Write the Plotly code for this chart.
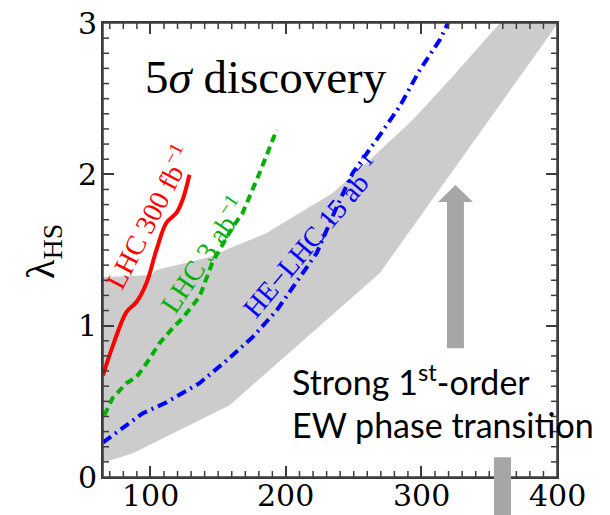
import plotly.graph_objects as go

# ---- data ----
band_upper_x = [65, 100, 104.4, 126.6, 143.6, 160.6, 185.7, 210, 234.5, 259.6, 293.6, 321, 358, 400]
band_upper_y = [1.32, 1.334, 1.368, 1.414, 1.454, 1.52, 1.612, 1.745, 1.877, 2.076, 2.36, 2.626, 3.0, 3.0]
band_lower_x = [65, 86.7, 158.4, 210, 269.3, 400]
band_lower_y = [0.096, 0.156, 0.474, 0.884, 1.348, 2.99]

lhc300_x = [65, 71.9, 82.3, 89.7, 97.0, 104.4, 111.8, 119.2, 123.7, 128.8]
lhc300_y = [0.672, 0.858, 1.09, 1.156, 1.28, 1.50, 1.68, 1.745, 1.83, 1.997]

lhc3_x = [66.0, 71.9, 82.3, 89.7, 97.0, 106.7, 116.3, 123.7, 136.2, 145.8, 160.6, 168, 180.6, 193.2]
lhc3_y = [0.407, 0.52, 0.62, 0.66, 0.75, 0.884, 0.983, 1.05, 1.19, 1.42, 1.65, 1.745, 2.01, 2.295]

helhc_x = [65, 74.9, 94.1, 111.8, 136.2, 156.2, 175.4, 193.1, 205, 222.7, 237.5, 249.3, 267, 284, 298.8, 313.6, 319.5]
helhc_y = [0.228, 0.295, 0.42, 0.493, 0.62, 0.77, 0.924, 1.10, 1.255, 1.48, 1.785, 2.01, 2.23, 2.45, 2.69, 2.89, 3.0]

x_range = [65, 400]
y_range = [0, 3]
x_major = [100, 200, 300, 400]
y_major = [0, 1, 2, 3]
x_minor_step = 10
y_minor_step = 0.1

SERIF = "Liberation Serif"
TICKSERIF = "DejaVu Serif"
SANS = "Lato"
AXC = "rgb(60,60,60)"

W, H = 610, 515
ML, MR, MT, MB = 103, 53, 23, 38
PW, PH = W - ML - MR, H - MT - MB
px_x = (x_range[1] - x_range[0]) / PW   # data units per pixel
px_y = (y_range[1] - y_range[0]) / PH

fig = go.Figure()

fig.add_trace(go.Scatter(
    x=band_upper_x + band_lower_x[::-1],
    y=band_upper_y + band_lower_y[::-1],
    fill="toself", fillcolor="#cccccc", line=dict(width=0),
    mode="lines", hoverinfo="skip", showlegend=False))

fig.add_trace(go.Scatter(x=lhc300_x, y=lhc300_y, mode="lines",
                         line=dict(color="#ff0000", width=4, shape="spline"), showlegend=False))
fig.add_trace(go.Scatter(x=lhc3_x, y=lhc3_y, mode="lines",
                         line=dict(color="#00b000", width=4, dash="8px,5px"), showlegend=False))
fig.add_trace(go.Scatter(x=helhc_x, y=helhc_y, mode="lines",
                         line=dict(color="#0000ff", width=4, dash="10px,5px,2px,5px"), showlegend=False))

# ---- minor inside ticks on all four sides, as one line trace ----
tx, ty = [], []
x0, x1 = x_range
y0, y1 = y_range
for k in range(0, int(round(x1 / x_minor_step)) + 1):
    xv = k * x_minor_step
    if xv <= x0 or xv >= x1 or xv % 100 == 0:
        continue
    tx += [xv, xv, None, xv, xv, None]
    ty += [y0, y0 + 6 * px_y, None, y1, y1 - 6 * px_y, None]
for k in range(1, int(round((y1 - y0) / y_minor_step))):
    if k % 10 == 0:
        continue
    yv = y0 + k * y_minor_step
    tx += [x0, x0 + 6 * px_x, None, x1, x1 - 6 * px_x, None]
    ty += [yv, yv, None, yv, yv, None]
fig.add_trace(go.Scatter(x=tx, y=ty, mode="lines", line=dict(color=AXC, width=1.5),
                         connectgaps=False, hoverinfo="skip", showlegend=False))

# ---- frame as a closed rectangle ----
fig.add_shape(type="rect", xref="paper", yref="paper", x0=0, x1=1, y0=0, y1=1,
              line=dict(color=AXC, width=1.5), layer="above")

# arrow (gray) and bottom bar
fig.add_shape(type="path",
              path="M 318.8,0.851 L 331.3,0.851 L 331.3,1.818 L 338,1.818 L 325.1,1.93 L 312.2,1.818 L 318.8,1.818 Z",
              xref="x", yref="y", fillcolor="#a6a6a6", line=dict(width=0), layer="above")
fig.add_shape(type="rect", x0=353.5, x1=366.1, y0=-0.1, y1=0.0436,
              xref="x", yref="paper", fillcolor="#a6a6a6", line=dict(width=0), layer="above")

# ---- tick labels and axis title ----
for xv in x_major:
    fig.add_annotation(x=xv, y=0, xref="x", yref="paper", showarrow=False, xanchor="center",
                       yanchor="middle", yshift=-18, text=str(xv),
                       font=dict(family=TICKSERIF, size=30, color="black"))
for yv in y_major:
    fig.add_annotation(x=0, y=yv, xref="paper", yref="y", showarrow=False, xanchor="right",
                       yanchor="middle", xshift=-4, text=str(yv),
                       font=dict(family=TICKSERIF, size=30, color="black"))
fig.add_annotation(x=0, y=0.5, xref="paper", yref="paper", showarrow=False, xanchor="center",
                   yanchor="middle", xshift=-60, yshift=-2, textangle=-90, text="λ<sub>HS</sub>",
                   font=dict(family=SERIF, size=40, color="black"))

annos = [
    dict(x=185.5, y=2.64, text="5<i>σ</i> discovery", font=dict(family=SERIF, size=47, color="black"), textangle=0),
    dict(x=98.5, y=1.72, text="LHC 300 fb<sup>−1</sup>", font=dict(family=SERIF, size=28, color="#ff0000"), textangle=-62.5),
    dict(x=138.5, y=1.47, text="LHC 3 ab<sup>−1</sup>", font=dict(family=SERIF, size=28, color="#00b000"), textangle=-56),
    dict(x=218.5, y=1.59, text="HE−LHC 15 ab<sup>−1</sup>", font=dict(family=SERIF, size=28, color="#0000ff"), textangle=-50),
]
for a in annos:
    fig.add_annotation(xref="x", yref="y", showarrow=False, xanchor="center", yanchor="middle", **a)

fig.add_annotation(x=203, y=0.639, xref="x", yref="y", showarrow=False, xanchor="left", yanchor="middle",
                   text="Strong 1<sup>st</sup>-order", font=dict(family=SANS, size=34, color="black"))
fig.add_annotation(x=203, y=0.348, xref="x", yref="y", showarrow=False, xanchor="left", yanchor="middle",
                   text="EW phase transition", font=dict(family=SANS, size=34, color="black"))

fig.update_layout(
    width=W, height=H, margin=dict(l=ML, r=MR, t=MT, b=MB, pad=0),
    paper_bgcolor="white", plot_bgcolor="white", showlegend=False,
    xaxis=dict(range=x_range, automargin=False, showgrid=False, zeroline=False,
               showline=True, linecolor=AXC, linewidth=1.5, mirror="ticks",
               tickmode="linear", tick0=0, dtick=100, ticks="inside", ticklen=11,
               tickwidth=1.5, tickcolor=AXC, showticklabels=False),
    yaxis=dict(range=y_range, automargin=False, showgrid=False, zeroline=False,
               showline=True, linecolor=AXC, linewidth=1.5, mirror="ticks",
               tickmode="linear", tick0=0, dtick=1, ticks="inside", ticklen=11,
               tickwidth=1.5, tickcolor=AXC, showticklabels=False),
)

fig.write_html("out.html")
